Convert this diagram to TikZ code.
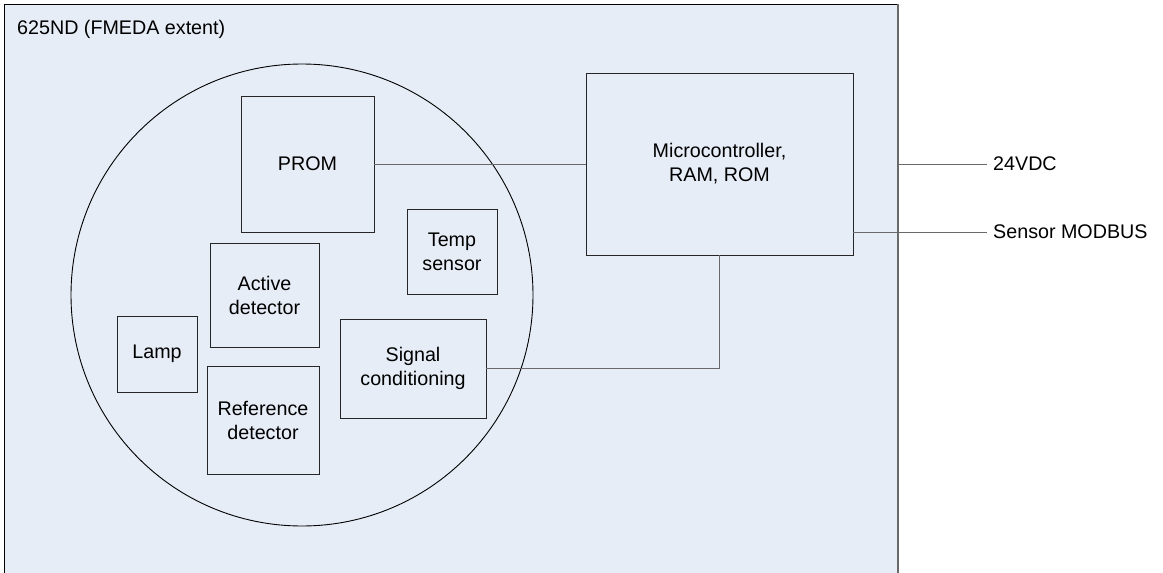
\documentclass[tikz,border=0pt]{standalone}
\usepackage{fontspec}
\setmainfont{Liberation Sans}
\usepackage{tikz}
\definecolor{fmedafill}{RGB}{231,237,247}
\definecolor{wiregray}{RGB}{105,105,105}

\begin{document}
\begin{tikzpicture}[x=1pt,y=-1pt,
        unit/.style={draw=black!85,line width=0.9pt,fill=fmedafill,align=center,
            font=\fontsize{19.7}{24}\selectfont},
        sig/.style={anchor=west,inner xsep=6pt,inner ysep=0pt,font=\fontsize{19.7}{24}\selectfont},
        wire/.style={draw=wiregray,line width=1pt}]
            \useasboundingbox (0,0) rectangle (1163,573);
            \clip (0,0) rectangle (1163,573);
            \fill [fmedafill] (4,4) rectangle (898,590);
            \draw [line width=0.9pt] (898,4) -- (4,4) -- (4,590);
            \draw [wiregray,line width=2pt] (898,4) -- (898,590);
            \node [anchor=base west,inner sep=0pt,font=\fontsize{19.7}{24}\selectfont] (title) at (17,34) {625ND (FMEDA extent)};
            \draw [line width=0.9pt] (302,295) circle [radius=231pt];
            \node [unit,minimum width=133pt,minimum height=136pt] (prom) at (307.5,164) {PROM};
            \node [unit,minimum width=90pt,minimum height=85pt] (temp) at (452,251.5) {Temp\\sensor};
            \node [unit,minimum width=109pt,minimum height=104pt] (active) at (264.5,295) {Active\\detector};
            \node [unit,minimum width=80pt,minimum height=76pt] (lamp) at (157,354) {Lamp};
            \node [unit,minimum width=146pt,minimum height=99pt] (signal) at (413,368.5) {Signal\\conditioning};
            \node [unit,minimum width=112pt,minimum height=108pt] (ref) at (263,420) {Reference\\detector};
            \node [unit,minimum width=267pt,minimum height=182pt] (micro) at (719.5,164) {Microcontroller,\\RAM, ROM};
            \coordinate (edge) at (898,164);
            \node [sig] (vdc) at (987,164) {24VDC};
            \node [sig] (modbus) at (987,232) {Sensor MODBUS};
            \draw [wire] (prom.east) -- (micro.west);
            \draw [wire] (signal.east) -| (micro.south);
            \draw [wire] (micro.east |- modbus) -- (modbus.west);
            \draw [wire] (edge) -- (vdc.west);
        \end{tikzpicture}
\end{document}
